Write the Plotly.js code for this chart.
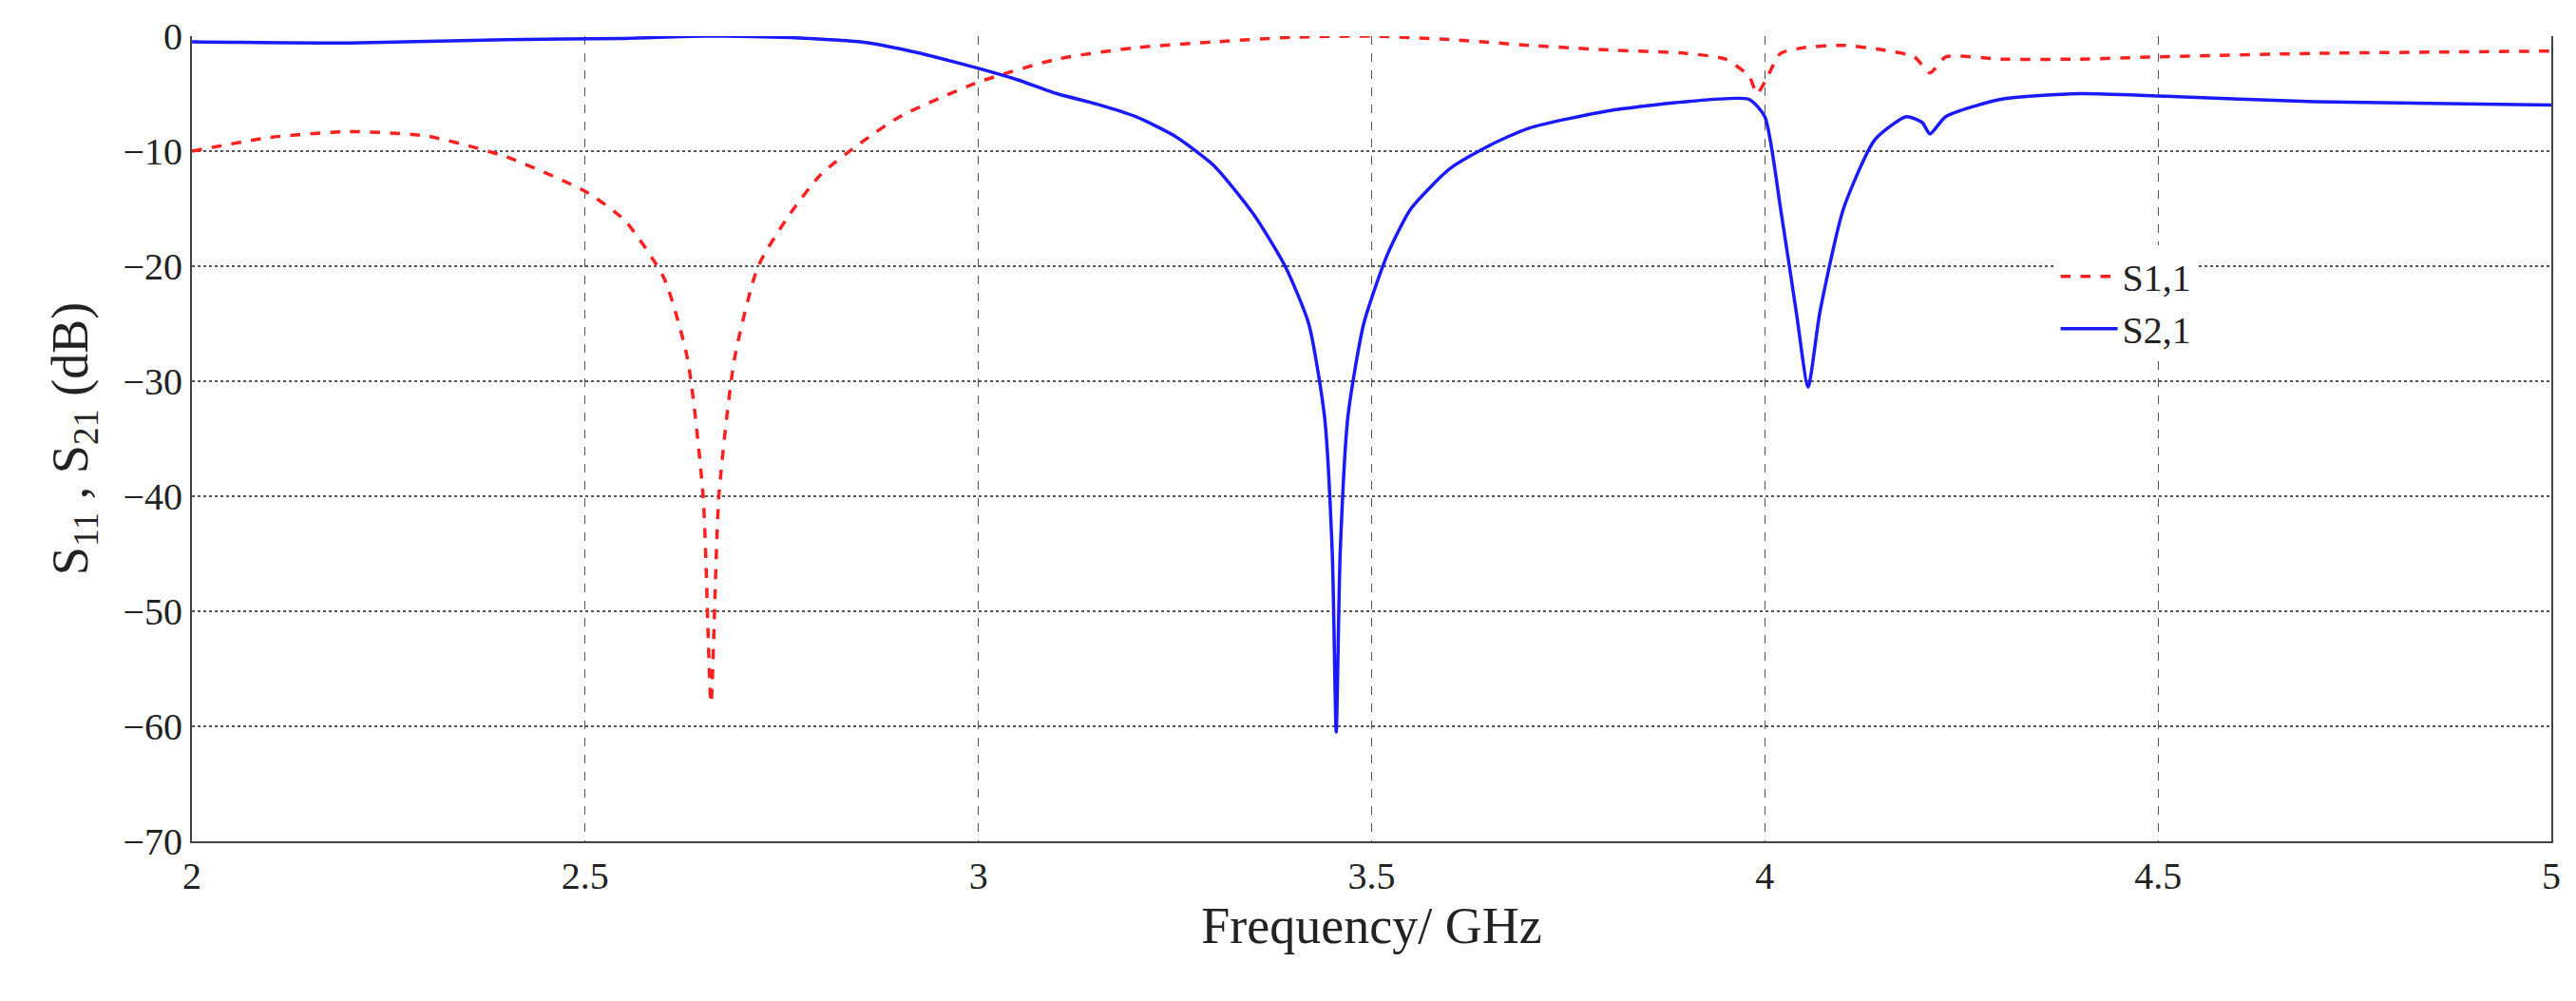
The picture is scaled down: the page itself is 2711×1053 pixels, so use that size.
<!DOCTYPE html>
<html><head><script src="https://cdn.plot.ly/plotly-3.0.1.min.js"></script>
<style>body{margin:0;background:#fff}</style></head><body>
<div id="c" style="width:2711px;height:1053px"></div>
<script>
const s11Freq = [2.0,2.1,2.2,2.3,2.4,2.5,2.55,2.6,2.63,2.65,2.66,2.67,2.69,2.72,2.76,2.8,2.85,2.9,3.0,3.1,3.2,3.3,3.4,3.5,3.6,3.7,3.8,3.9,3.95,3.98,3.99,4.0,4.02,4.05,4.1,4.15,4.19,4.21,4.23,4.3,4.4,4.5,4.7,5.0];
const s11Vals = [-10,-8.8,-8.3,-8.7,-10.5,-13.5,-16,-21,-28,-40,-58,-40,-28,-20,-15.5,-12,-9.3,-7,-4,-2,-1,-0.5,-0.1,0,-0.3,-0.8,-1.2,-1.5,-2,-3.5,-5,-4,-1.5,-1,-0.8,-1.2,-1.8,-3.2,-1.8,-2,-2,-1.8,-1.5,-1.3];
const s21Freq = [2.0,2.2,2.4,2.55,2.65,2.75,2.85,2.9,2.95,3.0,3.05,3.1,3.15,3.2,3.25,3.3,3.35,3.39,3.42,3.44,3.45,3.455,3.46,3.47,3.49,3.52,3.55,3.6,3.65,3.7,3.8,3.9,3.98,4.0,4.02,4.04,4.055,4.07,4.1,4.14,4.18,4.2,4.21,4.23,4.3,4.4,4.5,4.7,5.0];
const s21Vals = [-0.5,-0.6,-0.3,-0.2,0,-0.1,-0.5,-1.1,-1.9,-2.8,-3.8,-5,-5.9,-7,-8.7,-11.3,-15.5,-20,-25,-33,-45,-60.5,-45,-33,-25,-19,-15,-11.5,-9.5,-8,-6.5,-5.7,-5.5,-7,-15,-24,-30.5,-24,-15,-9,-7,-7.5,-8.5,-7,-5.5,-5,-5.2,-5.7,-6];
const xTicks = [2,2.5,3,3.5,4,4.5,5];
const yTicks = [0,-10,-20,-30,-40,-50,-60,-70];
const serif = "Liberation Serif, Times New Roman, serif";
Plotly.newPlot('c', [
 {x:s11Freq,y:s11Vals,name:'S1,1',mode:'lines',line:{color:'#ff2020',width:3.5,dash:'dash',shape:'spline',smoothing:0.6}},
 {x:s21Freq,y:s21Vals,name:'S2,1',mode:'lines',line:{color:'#1a1aff',width:3.5,shape:'spline',smoothing:0.6}}
],{
 width:2711,height:1053,margin:{l:202,r:26,t:38,b:168},
 paper_bgcolor:'#fff',plot_bgcolor:'#fff',
 font:{family:serif,color:'#222'},
 xaxis:{range:[2,5],tickvals:xTicks,ticktext:xTicks.map(String),showgrid:true,gridcolor:'#555',griddash:'dash',gridwidth:1.2,
   zeroline:false,showline:true,linecolor:'#444',linewidth:2,mirror:false,tickfont:{size:40,family:serif},ticks:'',
   title:{text:'Frequency/ GHz',font:{size:54,family:serif},standoff:10}},
 yaxis:{range:[-70,0],tickvals:yTicks,showgrid:true,gridcolor:'#555',griddash:'dot',gridwidth:1.5,zeroline:false,
   showline:true,linecolor:'#444',linewidth:2,mirror:true,tickfont:{size:40,family:serif},ticks:'',
   title:{text:'S<sub>11</sub> , S<sub>21</sub> (dB)',font:{size:54,family:serif},standoff:20}},
 legend:{x:0.79,xanchor:'left',y:0.74,yanchor:'top',bgcolor:'#fff',font:{size:40,family:serif,color:'#222'},
   tracegroupgap:40,itemwidth:60},
 showlegend:true
},{displayModeBar:false});
</script></body></html>
